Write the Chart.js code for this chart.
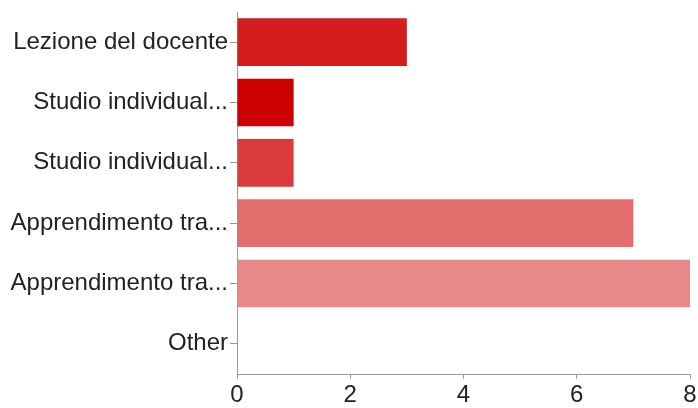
<!DOCTYPE html>
<html>
<head>
<meta charset="utf-8">
<script src="https://cdn.jsdelivr.net/npm/chart.js@4/dist/chart.umd.min.js"></script>
<style>
html,body{margin:0;padding:0;background:#fff;}
#wrap{width:698px;height:408px;position:relative;}
</style>
</head>
<body>
<div id="wrap"><canvas id="c" width="698" height="408"></canvas></div>
<script>
const categories = ["Lezione del docente", "Studio individual...", "Studio individual...", "Apprendimento tra...", "Apprendimento tra...", "Other"];
const values = [3, 1, 1, 7, 8, 0];
const barColors = ["#d41e1e", "#cc0000", "#db3b3b", "#e36c6c", "#e88888", "#eea5a5"];
const xTicks = [0, 2, 4, 6, 8];

Chart.defaults.font.family = "'Liberation Sans', Arial, sans-serif";
Chart.defaults.font.size = 24;
Chart.defaults.color = "#222";

new Chart(document.getElementById('c'), {
  type: 'bar',
  data: {
    labels: categories,
    datasets: [{
      data: values,
      backgroundColor: barColors,
      borderWidth: 0,
      categoryPercentage: 0.79,
      barPercentage: 1
    }]
  },
  options: {
    indexAxis: 'y',
    responsive: false,
    animation: false,
    layout: { padding: { top: 12, right: 8, left: 0, bottom: 0 } },
    plugins: { legend: { display: false }, tooltip: { enabled: false } },
    scales: {
      x: {
        min: 0, max: 8,
        afterBuildTicks: s => { s.ticks = xTicks.map(v => ({ value: v })); },
        afterFit: s => { s.height = 34; s.paddingRight = 0; s.paddingLeft = 0; },
        grid: { drawOnChartArea: false, tickLength: 5, color: "#999" },
        border: { color: "#999" },
        ticks: { padding: 2, color: "#222" }
      },
      y: {
        afterFit: s => { s.width = 237; s.paddingTop = 0; s.paddingBottom = 0; },
        grid: { drawOnChartArea: false, offset: false, tickLength: 7, color: "#999" },
        border: { color: "#999" },
        ticks: { padding: 2, color: "#222", autoSkip: false }
      }
    }
  }
});
</script>
</body>
</html>
